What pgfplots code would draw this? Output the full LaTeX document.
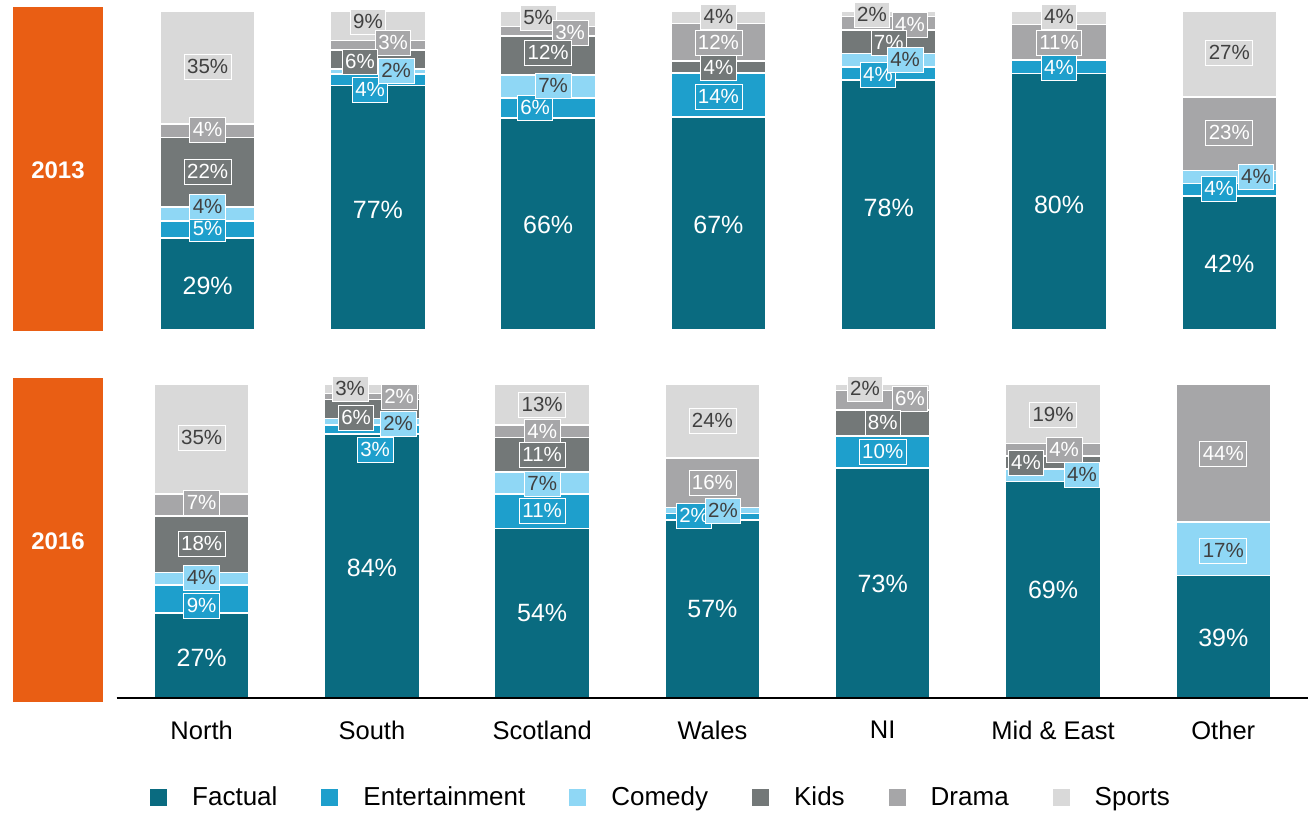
\documentclass[border=0pt]{standalone}
\usepackage{fontspec}
\setmainfont{Liberation Sans}
\usepackage{pgfplots}
\pgfplotsset{compat=1.18}
\definecolor{cfact}{HTML}{0A6B80}
\definecolor{cent}{HTML}{1E9FCC}
\definecolor{ccom}{HTML}{8FD7F5}
\definecolor{ckid}{HTML}{737878}
\definecolor{cdra}{HTML}{A6A6A8}
\definecolor{cspo}{HTML}{D9D9D9}
\definecolor{corg}{HTML}{E95E14}
\definecolor{ctxt}{HTML}{404040}
\pgfplotsset{
  panel/.style={scale only axis, width=1192pt, xmin=-0.5, xmax=6.5, ymin=0, ymax=100},
  bars/.style={ybar stacked, bar width=95pt, draw=white, line width=1.5pt, fill=#1},
  lab/.style n args={2}{draw=none, mark=none, point meta=explicit symbolic,
    nodes near coords={\pgfplotspointmeta\%},
    nodes near coords style={anchor=center, font=\fontsize{20.5}{24}\selectfont, text=#2, fill=#1,
      draw=white, line width=0.8pt, inner xsep=3pt, inner ysep=5pt, text height=14.5pt, text depth=1pt}},
  flab/.style={draw=none, mark=none, point meta=explicit symbolic,
    nodes near coords={\pgfplotspointmeta\%},
    nodes near coords style={anchor=center, font=\fontsize{25}{30}\selectfont, text=white}},
}
\begin{document}
\begin{tikzpicture}[x=1pt,y=1pt]
\fill[corg] (13,481) rectangle (103,805);
\node[text=white,font=\bfseries\fontsize{24}{28}\selectfont] at (58,642) {2013};
\fill[corg] (13,110) rectangle (103,434);
\node[text=white,font=\bfseries\fontsize{24}{28}\selectfont] at (58,271) {2016};

% ---------- 2013 bars ----------
\begin{axis}[panel, height=319pt, at={(122.5pt,482pt)}, anchor=south west, hide axis, ybar stacked, bar width=95pt]
\addplot[bars=cfact] coordinates {(0,28.8)(1,76.6)(2,66.4)(3,66.7)(4,78.3)(5,80.4)(6,42)};
\addplot[bars=cent] coordinates {(0,5.3)(1,3.6)(2,6.3)(3,13.8)(4,4.2)(5,4.2)(6,4)};
\addplot[bars=ccom] coordinates {(0,4.4)(1,1.6)(2,7.2)(3,0)(4,4.2)(5,0)(6,4)};
\addplot[bars=ckid] coordinates {(0,21.8)(1,6.0)(2,12.3)(3,3.8)(4,7.3)(5,0)(6,0)};
\addplot[bars=cdra] coordinates {(0,4.3)(1,3.0)(2,2.9)(3,11.8)(4,4.2)(5,11.2)(6,23)};
\addplot[bars=cspo] coordinates {(0,35.4)(1,9.2)(2,4.9)(3,3.9)(4,1.8)(5,4.2)(6,27)};
\end{axis}
% ---------- 2013 labels ----------
\begin{axis}[panel, height=319pt, at={(122.5pt,482pt)}, anchor=south west, hide axis, clip=false]
\addplot[lab={cspo}{ctxt}] table[x=x,y=y,meta=l,row sep=\\] {x y l\\ 0 82.4 35\\ 0.942 96.6 9\\ 1.941 97.8 5\\ 3 98.1 4\\ 3.902 98.7 2\\ 5 98.1 4\\ 6 86.8 27\\};
\addplot[lab={cdra}{white}] table[x=x,y=y,meta=l,row sep=\\] {x y l\\ 0 62.7 4\\ 1.089 90.0 3\\ 2.129 93.1 3\\ 3 90.0 12\\ 4.125 95.6 4\\ 5 90.0 11\\ 6 61.8 23\\};
\addplot[lab={ckid}{white}] table[x=x,y=y,meta=l,row sep=\\] {x y l\\ 0 49.5 22\\ 0.895 84.0 6\\ 2 86.8 12\\ 3 82.1 4\\ 4 90.0 7\\};
\addplot[lab={cent}{white}] table[x=x,y=y,meta=l,row sep=\\] {x y l\\ 0 31.7 5\\ 0.954 75.2 4\\ 1.923 69.6 6\\ 3 73.0 14\\ 3.937 79.9 4\\ 5 82.1 4\\ 5.940 44.2 4\\};
\addplot[lab={ccom}{ctxt}] table[x=x,y=y,meta=l,row sep=\\] {x y l\\ 0 38.6 4\\ 1.107 81.2 2\\ 2.029 76.5 7\\ 4.096 84.6 4\\ 6.157 48.0 4\\};
\addplot[flab] table[x=x,y=y,meta=l,row sep=\\] {x y l\\ 0 13.8 29\\ 1 37.6 77\\ 2 32.9 66\\ 3 32.9 67\\ 4 38.2 78\\ 5 39.2 80\\ 6 20.7 42\\};
\end{axis}

% ---------- 2016 bars ----------
\begin{axis}[panel, height=314pt, at={(116.5pt,114pt)}, anchor=south west, ybar stacked, bar width=95pt,
  axis on top,
  axis x line=bottom, axis y line=none, x axis line style={-, line width=2pt, black},
  xtick={0,...,6}, xticklabels={North,South,Scotland,Wales,NI,Mid \& East,Other},
  major tick length=0pt,
  xticklabel style={font=\fontsize{25.5}{30}\selectfont, inner sep=0pt, anchor=north, yshift=-23pt},
  legend columns=6,
  legend style={at={(0.0281,-0.3153)}, anchor=west, draw=none, fill=none, inner sep=0pt,
    font=\fontsize{26}{30}\selectfont, nodes={inner sep=0pt},
    /tikz/every even column/.append style={column sep=44pt},
    /tikz/every odd column/.append style={column sep=25pt}},
  every axis plot post/.append style={legend image code/.code={\fill[##1,draw=none] (0pt,-8.5pt) rectangle (17pt,8.5pt);}}]
\addplot[bars=cfact] coordinates {(0,27)(1,84)(2,54)(3,56.7)(4,73.3)(5,69)(6,39)};
\addplot[bars=cent] coordinates {(0,9)(1,3)(2,11)(3,2)(4,10.2)(5,0)(6,0)};
\addplot[bars=ccom] coordinates {(0,4)(1,2)(2,7)(3,2)(4,0)(5,4)(6,17)};
\addplot[bars=ckid] coordinates {(0,18)(1,6)(2,11)(3,0)(4,8.2)(5,4)(6,0)};
\addplot[bars=cdra] coordinates {(0,7)(1,2)(2,4)(3,15.8)(4,6.2)(5,4)(6,44)};
\addplot[bars=cspo] coordinates {(0,35)(1,3)(2,13)(3,23.5)(4,2.1)(5,19)(6,0)};
\legend{Factual,Entertainment,Comedy,Kids\hspace{13pt},Drama,Sports}
\end{axis}
% ---------- 2016 labels ----------
\begin{axis}[panel, height=314pt, at={(116.5pt,114pt)}, anchor=south west, hide axis, clip=false]
\addplot[lab={cspo}{ctxt}] table[x=x,y=y,meta=l,row sep=\\] {x y l\\ 0 82.8 35\\ 0.872 98.4 3\\ 2 93.3 13\\ 3 88.2 24\\ 3.896 98.4 2\\ 5 90.1 19\\};
\addplot[lab={cdra}{white}] table[x=x,y=y,meta=l,row sep=\\] {x y l\\ 0 62.1 7\\ 1.160 95.9 2\\ 2 84.7 4\\ 3 68.5 16\\ 4.160 95.2 6\\ 5.065 79.0 4\\ 6 77.7 44\\};
\addplot[lab={ckid}{white}] table[x=x,y=y,meta=l,row sep=\\] {x y l\\ 0 49.0 18\\ 0.907 89.2 6\\ 2 77.4 11\\ 4 87.6 8\\ 4.841 74.8 4\\};
\addplot[lab={cent}{white}] table[x=x,y=y,meta=l,row sep=\\] {x y l\\ 0 29.3 9\\ 1.019 79.0 3\\ 2 59.6 11\\ 2.892 58.0 2\\ 4 78.3 10\\};
\addplot[lab={ccom}{ctxt}] table[x=x,y=y,meta=l,row sep=\\] {x y l\\ 0 38.2 4\\ 1.154 87.3 2\\ 2 68.2 7\\ 3.062 59.6 2\\ 5.170 71.0 4\\ 6 46.8 17\\};
\addplot[flab] table[x=x,y=y,meta=l,row sep=\\] {x y l\\ 0 12.7 27\\ 1 41.4 84\\ 2 27.1 54\\ 3 28.3 57\\ 4 36.3 73\\ 5 34.4 69\\ 6 19.1 39\\};
\end{axis}
\pgfresetboundingbox
\useasboundingbox (0,0) rectangle (1313,812);
\end{tikzpicture}
\end{document}
